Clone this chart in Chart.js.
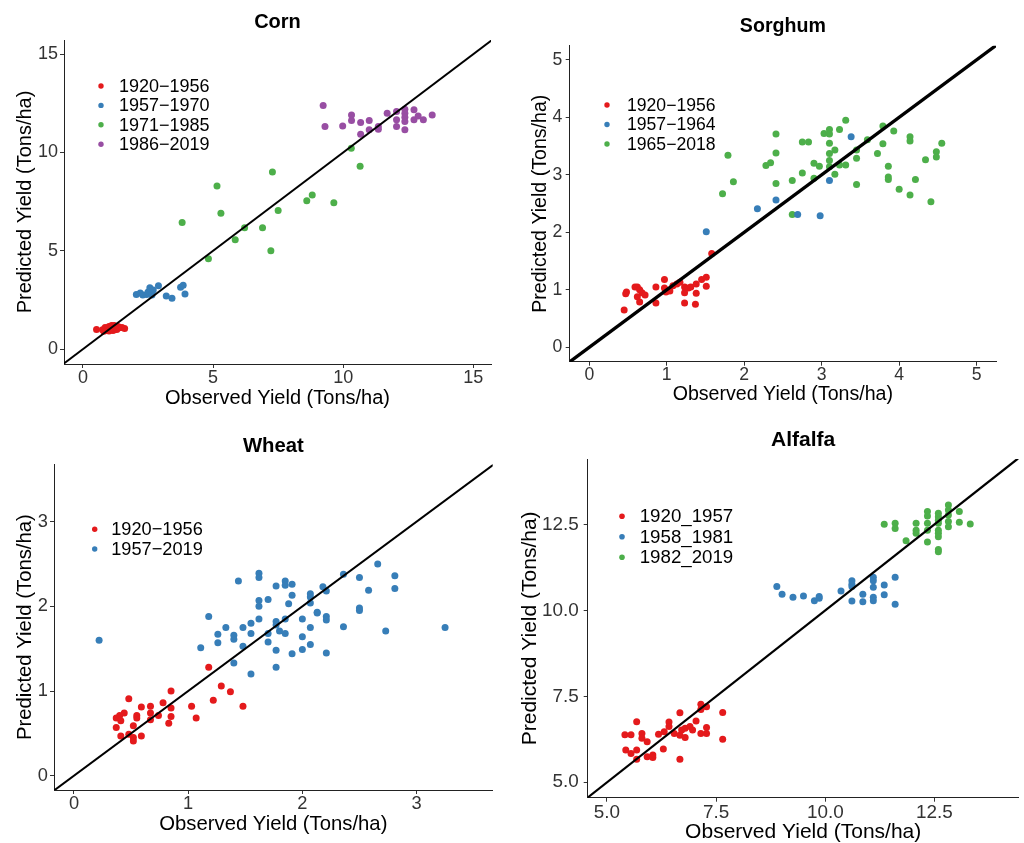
<!DOCTYPE html>
<html>
<head>
<meta charset="utf-8">
<title>Observed vs predicted yield</title>
<script src="https://cdn.jsdelivr.net/npm/chart.js@4.4.1/dist/chart.umd.min.js"></script>
<style>
  html, body { margin: 0; padding: 0; background: #fff; overflow: hidden; }
  .panel { position: absolute; }
</style>
</head>
<body>
<canvas id="corn" class="panel" width="512" height="420" style="left:0;top:0"></canvas>
<canvas id="sorghum" class="panel" width="512" height="420" style="left:512px;top:0"></canvas>
<canvas id="wheat" class="panel" width="512" height="423" style="left:0;top:420px"></canvas>
<canvas id="alfalfa" class="panel" width="512" height="425" style="left:512px;top:420px"></canvas>
<script>
// [observed, predicted] in Tons/ha, one array per period

const cornPeriods = ['1920−1956', '1957−1970', '1971−1985', '1986−2019'];
const corn1920 = [[0.52,1.0],[0.75,0.98],[0.8,0.9],[0.85,1.1],[0.9,0.95],[0.95,1.05],[1.0,1.15],[1.0,0.92],[1.05,1.0],[1.1,1.1],[1.1,1.2],[1.15,0.95],[1.2,1.2],[1.2,0.98],[1.25,1.05],[1.3,1.0],[1.35,1.15],[1.4,1.08],[1.5,1.1],[1.6,1.05]];
const corn1957 = [[2.05,2.78],[2.2,2.85],[2.3,2.75],[2.45,2.78],[2.5,2.9],[2.57,3.12],[2.65,2.75],[2.7,3.0],[2.9,3.22],[3.2,2.7],[3.42,2.58],[3.75,3.15],[3.85,3.25],[3.92,2.8]];
const corn1971 = [[3.81,6.44],[4.82,4.59],[5.15,8.3],[5.3,6.91],[5.85,5.56],[6.21,6.17],[6.9,6.17],[7.22,5.0],[7.28,9.0],[7.5,7.05],[8.6,7.54],[8.81,7.83],[9.64,7.44],[10.31,10.22],[10.65,9.3]];
const corn1986 = [[9.23,12.39],[9.3,11.32],[9.98,11.35],[10.32,11.91],[10.32,11.62],[10.67,11.52],[10.67,10.93],[11.0,11.62],[11.0,11.15],[11.35,11.32],[11.35,11.18],[11.69,12.0],[12.05,12.08],[12.05,11.66],[12.05,11.32],[12.37,12.2],[12.37,12.0],[12.37,11.79],[12.37,11.57],[12.37,11.15],[12.72,12.17],[12.72,11.66],[12.88,11.86],[13.08,11.66],[13.42,11.91]];
const cornTicks = [0, 5, 10, 15];

const sorghumPeriods = ['1920−1956', '1957−1964', '1965−2018'];
const sorghum1920 = [[0.45,0.65],[0.47,0.93],[0.48,0.96],[0.59,1.05],[0.62,1.05],[0.62,0.88],[0.65,1.0],[0.65,0.79],[0.68,0.95],[0.72,0.91],[0.86,1.05],[0.86,0.77],[0.97,1.18],[0.97,1.03],[0.99,0.96],[1.04,0.98],[1.08,1.07],[1.13,1.1],[1.17,1.13],[1.23,1.05],[1.23,0.95],[1.23,0.77],[1.28,1.03],[1.31,1.05],[1.37,0.75],[1.38,1.1],[1.38,0.94],[1.45,1.18],[1.51,1.22],[1.51,1.06],[1.58,1.63]];
const sorghum1957 = [[1.51,2.01],[2.17,2.41],[2.41,2.56],[2.69,2.31],[2.98,2.29],[3.1,2.9],[3.38,3.66]];
const sorghum1965 = [[1.72,2.67],[1.79,3.34],[1.86,2.88],[2.28,3.16],[2.34,3.21],[2.41,3.71],[2.41,3.38],[2.41,2.85],[2.62,2.9],[2.62,2.31],[2.75,3.57],[2.83,3.57],[2.75,3.03],[2.9,3.2],[2.9,2.94],[2.97,3.15],[3.03,3.72],[3.1,3.79],[3.1,3.71],[3.1,3.55],[3.1,3.37],[3.1,3.25],[3.1,3.14],[3.17,3.43],[3.17,3.01],[3.23,3.79],[3.23,3.17],[3.31,3.95],[3.31,3.17],[3.45,3.43],[3.45,3.29],[3.45,2.83],[3.59,3.61],[3.72,3.37],[3.79,3.85],[3.79,3.54],[3.86,3.15],[3.86,2.96],[3.86,2.92],[3.93,3.76],[4.0,2.75],[4.14,3.66],[4.14,3.59],[4.14,2.65],[4.21,2.92],[4.34,3.26],[4.41,2.53],[4.48,3.4],[4.48,3.31],[4.55,3.55]];
const sorghumTicks = [0, 1, 2, 3, 4, 5];

const wheatPeriods = ['1920−1956', '1957−2019'];
const wheat1920 = [[0.37,0.68],[0.37,0.57],[0.4,0.71],[0.41,0.65],[0.41,0.47],[0.44,0.74],[0.48,0.91],[0.48,0.49],[0.52,0.59],[0.52,0.45],[0.52,0.41],[0.55,0.71],[0.55,0.68],[0.59,0.81],[0.59,0.47],[0.67,0.82],[0.67,0.74],[0.67,0.66],[0.74,0.71],[0.78,0.86],[0.83,0.62],[0.85,1.0],[0.85,0.8],[0.85,0.7],[1.03,0.82],[1.07,0.68],[1.18,1.28],[1.22,0.89],[1.29,1.06],[1.37,0.99],[1.48,0.82]];
const wheat1957 = [[0.22,1.6],[1.11,1.51],[1.18,1.88],[1.26,1.67],[1.26,1.57],[1.33,1.75],[1.4,1.66],[1.4,1.61],[1.4,1.33],[1.44,2.3],[1.48,1.75],[1.48,1.53],[1.55,1.8],[1.55,1.68],[1.55,1.2],[1.62,2.39],[1.62,2.34],[1.62,2.07],[1.62,2.0],[1.62,1.85],[1.7,2.08],[1.7,1.68],[1.7,1.58],[1.77,2.24],[1.77,1.82],[1.77,1.78],[1.77,1.48],[1.77,1.28],[1.8,1.71],[1.85,2.3],[1.85,2.25],[1.85,1.85],[1.85,1.68],[1.88,2.03],[1.91,2.26],[1.91,2.13],[1.91,1.44],[2.0,1.85],[2.0,1.64],[2.0,1.49],[2.07,2.15],[2.07,2.11],[2.07,2.04],[2.07,1.75],[2.07,1.55],[2.13,1.93],[2.13,1.92],[2.18,2.23],[2.21,2.18],[2.21,1.88],[2.21,1.84],[2.21,1.45],[2.36,2.38],[2.36,1.76],[2.5,2.34],[2.5,1.98],[2.5,1.95],[2.58,2.19],[2.66,2.5],[2.73,1.71],[2.81,2.36],[2.81,2.21],[3.25,1.75]];
const wheatTicks = [0, 1, 2, 3];

const alfalfaPeriods = ['1920_1957', '1958_1981', '1982_2019'];
const alfalfa1920 = [[5.41,6.38],[5.43,5.94],[5.55,6.38],[5.55,5.84],[5.68,6.76],[5.68,5.94],[5.68,5.67],[5.8,6.42],[5.8,6.28],[5.92,6.18],[5.92,5.74],[6.05,5.79],[6.05,5.72],[6.18,6.4],[6.29,5.97],[6.31,6.47],[6.42,6.75],[6.42,6.62],[6.54,6.42],[6.67,7.02],[6.67,6.37],[6.67,5.67],[6.71,6.52],[6.79,6.3],[6.79,6.57],[6.9,6.62],[6.96,6.52],[7.04,6.78],[7.15,7.27],[7.15,7.12],[7.15,6.42],[7.28,7.2],[7.28,6.59],[7.28,6.42],[7.65,7.03],[7.65,6.25]];
const alfalfa1958 = [[8.89,10.69],[9.01,10.47],[9.26,10.38],[9.5,10.42],[9.75,10.28],[9.86,10.4],[9.86,10.35],[10.36,10.56],[10.61,10.86],[10.61,10.76],[10.61,10.69],[10.61,10.27],[10.86,10.47],[10.86,10.25],[11.1,10.96],[11.1,10.86],[11.1,10.67],[11.1,10.38],[11.1,10.28],[11.35,10.74],[11.35,10.45],[11.6,10.96],[11.6,10.18]];
const alfalfa1982 = [[11.35,12.5],[11.6,12.53],[11.6,12.38],[11.85,12.02],[12.08,12.53],[12.08,12.33],[12.08,12.24],[12.34,12.87],[12.34,12.74],[12.34,12.53],[12.34,12.33],[12.34,11.99],[12.59,12.82],[12.59,12.72],[12.59,12.62],[12.59,12.53],[12.59,12.33],[12.59,12.24],[12.59,12.14],[12.59,11.77],[12.59,11.7],[12.82,13.06],[12.82,12.92],[12.82,12.77],[12.82,12.58],[12.82,12.43],[13.07,12.87],[13.07,12.56],[13.32,12.51]];
const alfalfaTicks = [5, 7.5, 10, 12.5];

const COLORS = ['#E41A1C', '#377EB8', '#4DAF4A', '#984EA3'];
const FONT = "'Liberation Sans', Arial, Helvetica, sans-serif";

// key drawn inside the plotting area, near the top-left corner
const insetLegend = {
  id: 'insetLegend',
  afterDraw(chart, args, opts) {
    const { ctx, chartArea } = chart;
    ctx.save();
    ctx.font = opts.size + 'px ' + FONT;
    ctx.textAlign = 'left';
    ctx.textBaseline = 'middle';
    chart.data.datasets.filter(d => !d.showLine).forEach((d, i) => {
      const x = chartArea.left + opts.x;
      const y = chartArea.top + opts.y + i * opts.step;
      ctx.fillStyle = d.backgroundColor;
      ctx.beginPath();
      ctx.arc(x, y, opts.r, 0, Math.PI * 2);
      ctx.fill();
      ctx.fillStyle = '#000';
      ctx.fillText(d.label, x + opts.gap, y + 1);
    });
    ctx.restore();
  }
};

function toPoints(arr) {
  return arr.map(([x, y]) => ({ x, y }));
}

function makePanel(id, p) {
  const s = p.scale;
  const axisFont = { family: FONT, size: 20 * s, lineHeight: 1.2 };
  const tickFont = { family: FONT, size: 18 * s, lineHeight: 1 };
  const lo = Math.min(p.xRange[0], p.yRange[0]) - 1;
  const hi = Math.max(p.xRange[1], p.yRange[1]) + 1;

  // 1:1 line first so it is painted over the points
  const datasets = [{
    label: '1:1',
    data: [{ x: lo, y: lo }, { x: hi, y: hi }],
    showLine: true,
    borderColor: '#000',
    borderWidth: p.lineWidth,
    pointRadius: 0,
    clip: 0
  }];
  p.series.forEach((pts, i) => {
    datasets.push({
      label: p.periods[i],
      data: toPoints(pts),
      backgroundColor: COLORS[i],
      borderWidth: 0,
      pointRadius: 3.5
    });
  });

  const axis = (range, ticks, title, pad, fit) => ({
    type: 'linear',
    min: range[0],
    max: range[1],
    afterBuildTicks: sc => { sc.ticks = ticks.map(v => ({ value: v })); },
    afterFit: fit,
    ticks: {
      font: tickFont,
      color: '#333',
      padding: pad,
      maxRotation: 0,
      autoSkip: false,
      callback: v => p.fmt(v)
    },
    grid: { drawOnChartArea: false, drawTicks: true, tickLength: 4, color: '#333' },
    border: { display: true, color: '#222', width: 1 },
    title: { display: true, text: title, font: axisFont, color: '#000', padding: { top: 0, bottom: 0 } }
  });

  return new Chart(document.getElementById(id), {
    type: 'scatter',
    data: { datasets },
    plugins: [insetLegend],
    options: {
      responsive: false,
      animation: false,
      events: [],
      layout: { padding: p.pad },
      scales: {
        x: axis(p.xRange, p.ticks, 'Observed Yield (Tons/ha)', p.xTickPad, sc => { sc.height = p.xHeight; }),
        y: axis(p.yRange, p.ticks, 'Predicted Yield (Tons/ha)', p.yTickPad, sc => { sc.width = p.yWidth; })
      },
      plugins: {
        legend: { display: false },
        tooltip: { enabled: false },
        title: {
          display: true,
          text: p.title,
          fullSize: false,
          color: '#000',
          font: { family: FONT, size: 20 * s, weight: 'bold', lineHeight: 1.2 },
          padding: p.titlePad
        },
        insetLegend: p.legend
      }
    }
  });
}

const plain = v => String(v);
const oneDecimal = v => v.toFixed(1);

makePanel('corn', {
  title: 'Corn', scale: 1, lineWidth: 2,
  periods: cornPeriods, series: [corn1920, corn1957, corn1971, corn1986],
  ticks: cornTicks, fmt: plain,
  xRange: [-0.73, 15.68], yRange: [-0.76, 15.72],
  pad: { left: 13, right: 21, top: 0, bottom: 10 },
  titlePad: { top: 10, bottom: 6 },
  yWidth: 51, xHeight: 46, xTickPad: 1, yTickPad: 2,
  legend: { x: 37, y: 46, step: 19.4, gap: 18, r: 2.7, size: 18 }
});

makePanel('sorghum', {
  title: 'Sorghum', scale: 0.98, lineWidth: 3.3,
  periods: sorghumPeriods, series: [sorghum1920, sorghum1957, sorghum1965],
  ticks: sorghumTicks, fmt: plain,
  xRange: [-0.253, 5.25], yRange: [-0.25, 5.245],
  pad: { left: 16.9, right: 28, top: 0, bottom: 13.2 },
  titlePad: { top: 15.2, bottom: 7 },
  yWidth: 40.8, xHeight: 45.1, xTickPad: 1, yTickPad: 3.5,
  legend: { x: 37.3, y: 59.3, step: 19.5, gap: 20, r: 2.7, size: 17.6 }
});

makePanel('wheat', {
  title: 'Wheat', scale: 1.015, lineWidth: 2,
  periods: wheatPeriods, series: [wheat1920, wheat1957],
  ticks: wheatTicks, fmt: plain,
  xRange: [-0.175, 3.667], yRange: [-0.169, 3.678],
  pad: { left: 12.8, right: 19.3, top: 0, bottom: 6.8 },
  titlePad: { top: 13.8, bottom: 6.1 },
  yWidth: 41.2, xHeight: 46.2, xTickPad: 1, yTickPad: 2,
  legend: { x: 40.7, y: 65, step: 19.7, gap: 16.5, r: 2.7, size: 18.2 }
});

makePanel('alfalfa', {
  title: 'Alfalfa', scale: 1.05, lineWidth: 2.2,
  periods: alfalfaPeriods, series: [alfalfa1920, alfalfa1958, alfalfa1982],
  ticks: alfalfaTicks, fmt: oneDecimal,
  xRange: [4.558, 14.43], yRange: [4.552, 14.4],
  pad: { left: 5.7, right: 5.3, top: 0, bottom: 0 },
  titlePad: { top: 7.7, bottom: 6.1 },
  yWidth: 70, xHeight: 47.3, xTickPad: 1.3, yTickPad: 5,
  legend: { x: 34.3, y: 57.3, step: 20.5, gap: 17.7, r: 2.8, size: 18.7 }
});
</script>
</body>
</html>
